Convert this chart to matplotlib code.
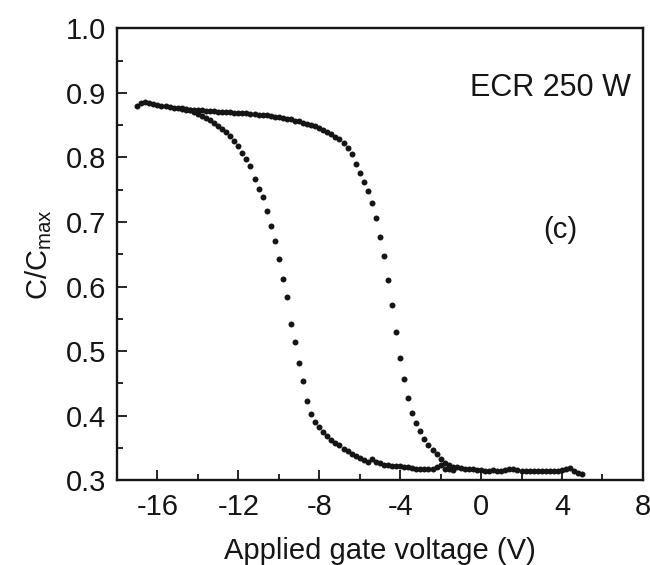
import matplotlib
matplotlib.use("Agg")
import matplotlib.pyplot as plt
from matplotlib.ticker import MultipleLocator

plt.rcParams['font.family'] = ['Liberation Sans', 'DejaVu Sans']
plt.rcParams['mathtext.fontset'] = 'custom'
plt.rcParams['mathtext.rm'] = 'Liberation Sans'

# sweep towards positive bias (right branch)
v_fwd = [-17.0, -16.8, -16.6, -16.4, -16.2, -16.0, -15.8, -15.6, -15.4, -15.2,
         -15.0, -14.8, -14.6, -14.4, -14.2, -14.0, -13.8, -13.6, -13.4, -13.2,
         -13.0, -12.8, -12.6, -12.4, -12.2, -12.0, -11.8, -11.6, -11.4, -11.2,
         -11.0, -10.8, -10.6, -10.4, -10.2, -10.0, -9.8, -9.6, -9.4, -9.2,
         -9.0, -8.8, -8.6, -8.4, -8.2, -8.0, -7.8, -7.6, -7.4, -7.2,
         -7.0, -6.8, -6.6, -6.4, -6.2, -6.0, -5.8, -5.6, -5.4, -5.2,
         -5.0, -4.8, -4.6, -4.4, -4.2, -4.0, -3.8, -3.6, -3.4, -3.2,
         -3.0, -2.8, -2.6, -2.4, -2.2, -2.0, -1.8, -1.6, -1.4, -1.2,
         -1.0, -0.8, -0.6, -0.4, -0.2, 0.0, 0.2, 0.4, 0.6, 0.8,
         1.0, 1.2, 1.4, 1.6, 1.8, 2.0, 2.2, 2.4, 2.6, 2.8,
         3.0, 3.2, 3.4, 3.6, 3.8, 4.0, 4.2, 4.4, 4.6, 4.8, 5.0]
c_fwd = [0.879, 0.885, 0.886, 0.884, 0.882, 0.881, 0.880, 0.879, 0.878, 0.877,
         0.876, 0.876, 0.875, 0.874, 0.874, 0.873, 0.873, 0.872, 0.872, 0.872,
         0.871, 0.871, 0.870, 0.870, 0.869, 0.869, 0.868, 0.868, 0.867, 0.867,
         0.866, 0.866, 0.865, 0.864, 0.863, 0.862, 0.861, 0.860, 0.859, 0.857,
         0.856, 0.854, 0.852, 0.850, 0.848, 0.845, 0.842, 0.839, 0.836, 0.832,
         0.828, 0.822, 0.814, 0.805, 0.790, 0.776, 0.762, 0.748, 0.729, 0.706,
         0.677, 0.647, 0.610, 0.571, 0.529, 0.489, 0.457, 0.428, 0.404, 0.388,
         0.376, 0.364, 0.355, 0.347, 0.340, 0.333, 0.327, 0.323, 0.321, 0.320,
         0.319, 0.318, 0.317, 0.317, 0.316, 0.316, 0.315, 0.315, 0.316, 0.315,
         0.315, 0.316, 0.317, 0.318, 0.316, 0.315, 0.315, 0.314, 0.315, 0.315,
         0.314, 0.315, 0.314, 0.315, 0.315, 0.316, 0.318, 0.319, 0.314, 0.312, 0.310]

# sweep back towards negative bias (left branch)
v_rev = [-14.8, -14.6, -14.4, -14.2, -14.0, -13.8, -13.6, -13.4, -13.2, -13.0,
         -12.8, -12.6, -12.4, -12.2, -12.0, -11.8, -11.6, -11.4, -11.2, -11.0,
         -10.8, -10.6, -10.4, -10.2, -10.0, -9.8, -9.6, -9.4, -9.2, -9.0,
         -8.8, -8.6, -8.4, -8.2, -8.0, -7.8, -7.6, -7.4, -7.2, -7.0,
         -6.8, -6.6, -6.4, -6.2, -6.0, -5.8, -5.6, -5.4, -5.2, -5.0,
         -4.8, -4.6, -4.4, -4.2, -4.0, -3.8, -3.6, -3.4, -3.2, -3.0,
         -2.8, -2.6, -2.4, -2.2, -2.0, -1.8, -1.6, -1.4]
c_rev = [0.875, 0.874, 0.873, 0.870, 0.867, 0.864, 0.861, 0.858, 0.854, 0.849,
         0.844, 0.839, 0.833, 0.825, 0.817, 0.807, 0.797, 0.786, 0.766, 0.751,
         0.738, 0.717, 0.693, 0.670, 0.643, 0.612, 0.584, 0.542, 0.514, 0.481,
         0.453, 0.423, 0.403, 0.390, 0.382, 0.375, 0.369, 0.363, 0.358, 0.354,
         0.349, 0.345, 0.341, 0.337, 0.334, 0.331, 0.329, 0.333, 0.328, 0.326,
         0.324, 0.324, 0.322, 0.322, 0.322, 0.321, 0.320, 0.319, 0.318, 0.318,
         0.317, 0.318, 0.317, 0.320, 0.324, 0.318, 0.317, 0.316]

ink = '#151515'

fig = plt.figure(figsize=(6.5, 5.65), dpi=100)
ax = fig.add_axes([0.18, 0.150, 0.809, 0.800])

ax.plot(v_fwd, c_fwd, 'o', color=ink, markersize=4.3, markeredgewidth=0)
ax.plot(v_rev, c_rev, 'o', color=ink, markersize=4.3, markeredgewidth=0)

ax.set_xlim(-18, 8)
ax.set_ylim(0.3, 1.0)
ax.xaxis.set_minor_locator(MultipleLocator(2))
ax.yaxis.set_major_locator(MultipleLocator(0.1))
ax.yaxis.set_minor_locator(MultipleLocator(0.05))
ax.set_xticks([-16, -12, -8, -4, 0, 4, 8])
ax.set_xticklabels(['-16', '-12', '-8', '-4', '0', '4', '8'])

ax.tick_params(which='both', direction='in', top=False, right=False,
               width=1.3, labelsize=21, colors=ink)
ax.tick_params(axis='x', which='major', length=7, pad=9)
ax.tick_params(axis='y', which='major', length=7, pad=8)
ax.tick_params(which='minor', length=4)
for s in ax.spines.values():
    s.set_linewidth(1.7)
    s.set_color(ink)

ax.set_xlabel('Applied gate voltage (V)', fontsize=21, labelpad=12, color=ink)
ax.set_ylabel(r'C/C$_{\mathregular{max}}$', fontsize=21, labelpad=8, color=ink)

ax.text(7.4, 0.908, 'ECR 250 W', fontsize=22, ha='right', va='center', color=ink)
ax.text(3.9, 0.687, '(c)', fontsize=21, ha='center', va='center', color=ink)

fig.savefig('out.png', dpi=100)
